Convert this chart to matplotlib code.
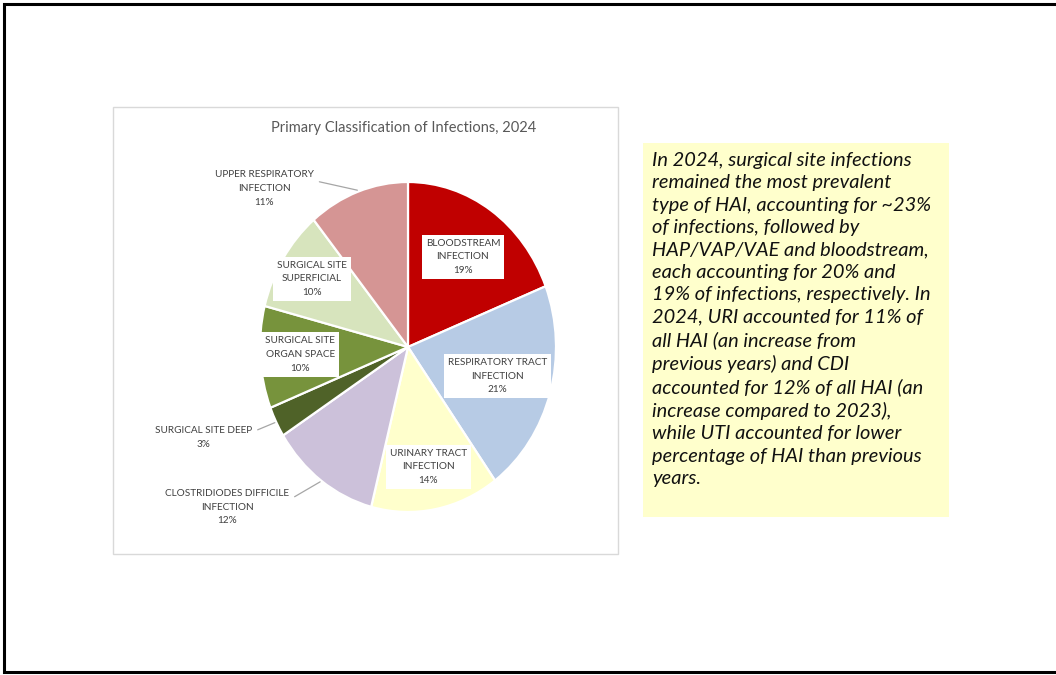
import numpy as np
import matplotlib.pyplot as plt
from matplotlib.patches import Rectangle

# data
categories = [
    "BLOODSTREAM\nINFECTION",
    "RESPIRATORY TRACT\nINFECTION",
    "URINARY TRACT\nINFECTION",
    "CLOSTRIDIODES DIFFICILE\nINFECTION",
    "SURGICAL SITE DEEP",
    "SURGICAL SITE\nORGAN SPACE",
    "SURGICAL SITE\nSUPERFICIAL",
    "UPPER RESPIRATORY\nINFECTION",
]
shares = [19, 21, 14, 12, 3, 10, 10, 11]
colors = ["#C00000", "#B7CBE5", "#FFFFCC", "#CCC1DA", "#4F6228",
          "#77933C", "#D7E4BD", "#D59594"]

title = "Primary Classification of Infections, 2024"
note = ("In 2024, surgical site infections\n"
        "remained the most prevalent\n"
        "type of HAI, accounting for ~23%\n"
        "of infections, followed by\n"
        "HAP/VAP/VAE and bloodstream,\n"
        "each accounting for 20% and\n"
        "19% of infections, respectively. In\n"
        "2024, URI accounted for 11% of\n"
        "all HAI (an increase from\n"
        "previous years) and CDI\n"
        "accounted for 12% of all HAI (an\n"
        "increase compared to 2023),\n"
        "while UTI accounted for lower\n"
        "percentage of HAI than previous\n"
        "years.")

# label placement: radius for inside labels, explicit spot for outside ones
inside_r = {0: 0.66, 1: 0.63, 2: 0.74, 5: 0.73, 6: 0.77}
outside_xy = {3: (-1.22, -0.97), 4: (-1.38, -0.55), 7: (-0.97, 0.96)}
outside_rel = {3: (1.0, 0.7), 4: (1.0, 0.75), 7: (1.0, 0.72)}

W, H = 1056, 675
fig = plt.figure(figsize=(W / 100, H / 100), dpi=100)
fig.patch.set_facecolor("white")

bg = fig.add_axes([0, 0, 1, 1])
bg.set_xlim(0, W)
bg.set_ylim(H, 0)
bg.axis("off")

# slide frame (open on the right, like the reference crop)
bg.plot([1100, 4, 4, 1100], [4, 4, 672, 672], color="black", lw=2.2,
        solid_joinstyle="miter", clip_on=True)
# chart area
bg.add_patch(Rectangle((113, 107), 505, 447, fc="white", ec="#D9D9D9", lw=1))
bg.text(404, 128, title, ha="center", va="center", fontsize=10.5,
        color="#595959", family="Lato")
# note box
bg.add_patch(Rectangle((643, 143), 306, 374, fc="#FFFFCC", ec="none"))
bg.text(652, 152, note, ha="left", va="top", fontsize=14.4, style="italic",
        color="#111111", family="Lato", linespacing=1.38)

# pie, slightly taller than wide like the reference
cx, cy, rx, ry = 408, 347, 148, 165
pax = fig.add_axes([(cx - rx) / W, (H - cy - ry) / H, 2 * rx / W, 2 * ry / H])
wedges, _ = pax.pie(shares, colors=colors, startangle=90, counterclock=False,
                    radius=1, wedgeprops=dict(edgecolor="white", linewidth=1.6))
pax.set_aspect("auto")
pax.set_xlim(-1, 1)
pax.set_ylim(-1, 1)
pax.axis("off")

for i, (w, cat, val) in enumerate(zip(wedges, categories, shares)):
    mid = np.deg2rad((w.theta1 + w.theta2) / 2)
    label = f"{cat}\n{val}%"
    if i in inside_r:
        r = inside_r[i]
        pax.text(r * np.cos(mid), r * np.sin(mid), label, ha="center",
                 va="center", fontsize=7.2, color="#404040", family="Lato",
                 linespacing=1.68,
                 bbox=dict(boxstyle="square,pad=0.4", fc="white", ec="none"))
    else:
        pax.annotate(label, xy=(1.01 * np.cos(mid), 1.01 * np.sin(mid)),
                     xytext=outside_xy[i], ha="center", va="center",
                     fontsize=7.2, color="#404040", family="Lato",
                     linespacing=1.68, annotation_clip=False,
                     arrowprops=dict(arrowstyle="-", color="#A6A6A6", lw=0.9,
                                     relpos=outside_rel[i], shrinkA=2,
                                     shrinkB=0))

fig.savefig("out.png", dpi=100)
